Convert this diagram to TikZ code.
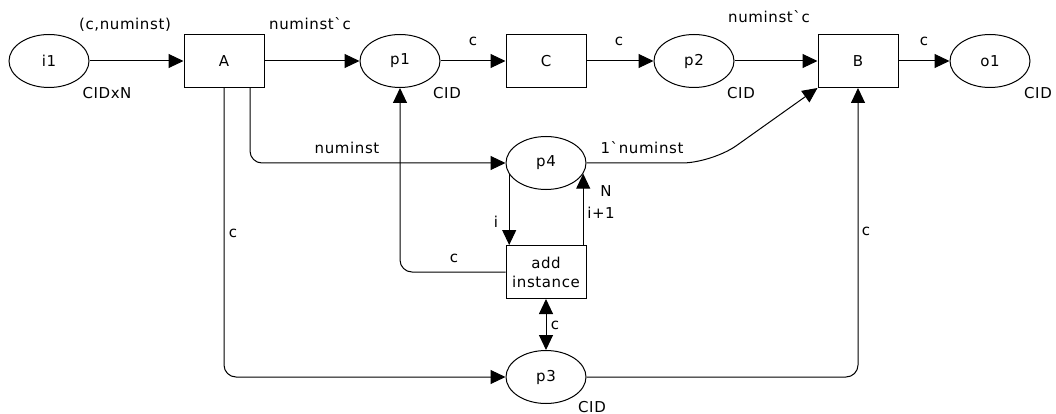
\documentclass[tikz,border=0pt]{standalone}
\usepackage{fontspec}
\setmainfont{DejaVu Sans}[Ligatures=TeXOff,LetterSpace=4]
\usetikzlibrary{arrows.meta,calc,shapes.geometric}
\begin{document}
\begin{tikzpicture}[x=1pt,y=-1pt,
  every node/.style={font=\fontsize{15}{19}\selectfont},
  place/.style={draw,ellipse,line width=1pt,minimum width=80pt,minimum height=53pt,inner sep=0pt},
  trans/.style={draw,rectangle,line width=1pt,minimum width=80pt,minimum height=53pt,inner sep=0pt,align=center},
  arc/.style={line width=1pt,-{Triangle[length=15pt,width=14pt]}},
  biarc/.style={line width=1pt,{Triangle[length=15pt,width=14pt]}-{Triangle[length=15pt,width=14pt]}},
  lbl/.style={inner sep=0pt}]
\useasboundingbox (0,0) rectangle (1056,414);
\node[place] (i1) at (49,61) {i1};
\node[trans] (A) at (224,61) {A};
\node[place] (p1) at (400,61) {p1};
\node[trans] (C) at (546,61) {C};
\node[place] (p2) at (694,61) {p2};
\node[trans] (B) at (858,61) {B};
\node[place] (o1) at (990,61) {o1};
\node[place] (p4) at (546,163) {p4};
\node[trans] (add) at (546,272) {add\\instance};
\node[place] (p3) at (546,377) {p3};

\draw[arc] (i1) -- (A);
\draw[arc] (A) -- (p1);
\draw[arc] (p1) -- (C);
\draw[arc] (C) -- (p2);
\draw[arc] (p2) -- (B);
\draw[arc] (B) -- (o1);
\draw[arc,rounded corners=12pt] ([xshift=26pt]A.south) |- (p4.west);
\draw[arc,rounded corners=12pt] (A.south) |- (p3.west);
\draw[arc,rounded corners=12pt] (add.west) -| (p1.south);
\draw[arc] (p4.197.7) -- (p4.197.7 |- add.north);
\draw[arc] (p4.344.7 |- add.north) -- (p4.344.7);
\draw[biarc] (add) -- (p3);
\draw[arc,rounded corners=30pt] (p4.east) -- (712,163) -- (B.south west);
\draw[arc,rounded corners=12pt] (p3.east) -| (B.south);

\node[lbl] (l1) at (125,25) {(c,numinst)};
\node[lbl] (l2) at (107,93) {CIDxN};
\node[lbl] (l3) at (310,24) {numinst`c};
\node[lbl] (l4) at (473,41) {c};
\node[lbl] (l5) at (447,93) {CID};
\node[lbl] (l6) at (619,41) {c};
\node[lbl] (l7) at (769,17) {numinst`c};
\node[lbl] (l8) at (741,93) {CID};
\node[lbl] (l9) at (924,41) {c};
\node[lbl] (l10) at (1038,93) {CID};
\node[lbl] (l11) at (347,148) {numinst};
\node[lbl] (l12) at (642,148) {1`numinst};
\node[lbl] (l13) at (606,191) {N};
\node[lbl] (l14) at (601,213) {i+1};
\node[lbl] (l15) at (496,222) {i};
\node[lbl] (l16) at (454,258) {c};
\node[lbl] (l17) at (233,233) {c};
\node[lbl] (l18) at (555,325) {c};
\node[lbl] (l19) at (592,407) {CID};
\node[lbl] (l20) at (866,231) {c};
\end{tikzpicture}
\end{document}
